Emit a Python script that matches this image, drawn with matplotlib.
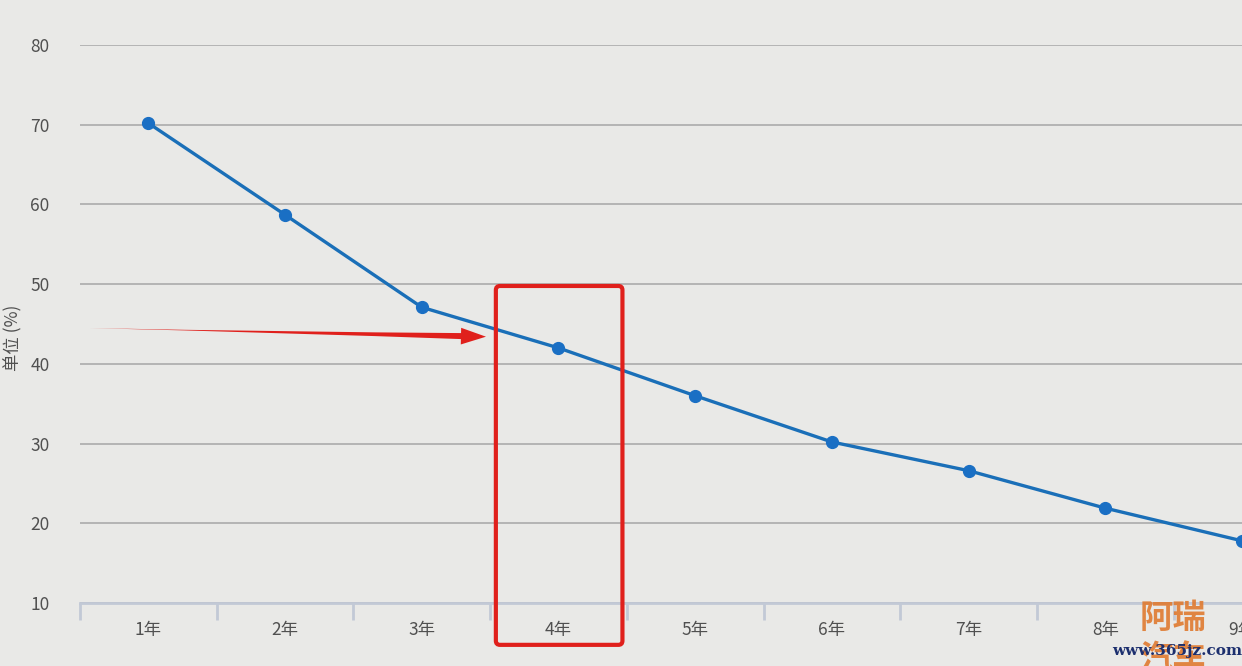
import numpy as np
import matplotlib.pyplot as plt
from matplotlib.patches import FancyBboxPatch

plt.rcParams['font.family'] = ['Noto Sans CJK SC', 'DejaVu Sans']

years = ['1年', '2年', '3年', '4年', '5年', '6年', '7年', '8年', '9年']
rate = [70.2, 58.7, 47.1, 42.0, 36.0, 30.2, 26.6, 21.9, 17.8]
y_ticks = [10, 20, 30, 40, 50, 60, 70, 80]

bg = '#e9e9e7'
text_c = '#505050'
line_c = '#1a6fb8'
red = '#e0201c'

fig = plt.figure(figsize=(12.42, 6.66), dpi=100, facecolor=bg)
ax = fig.add_axes([80 / 1242, 63 / 666, 1 - 80 / 1242, 558 / 666])
ax.set_facecolor(bg)

x = np.arange(1, len(years) + 1)
ax.plot(x, rate, color=line_c, lw=2.4, marker='o', ms=8.5, mfc='#1a6fc4', mec='#1a6fc4',
        zorder=5, clip_on=False)

ax.set_xlim(0.5, 8.96)
ax.set_ylim(10, 80)
ax.set_yticks(y_ticks)
ax.yaxis.grid(True, color='#b4b4b4', lw=1.4)
ax.set_axisbelow(True)

for s in ['top', 'right', 'left']:
    ax.spines[s].set_visible(False)
ax.spines['bottom'].set_color('#c2c9d6')
ax.spines['bottom'].set_linewidth(2)

ax.tick_params(axis='y', length=0, pad=22, labelsize=12.5, labelcolor=text_c)
ax.set_xticks(x)
ax.set_xticklabels(years)
ax.tick_params(axis='x', length=0, pad=13, labelsize=12.5, labelcolor=text_c)
for lab in ax.get_xticklabels():
    lab.set_clip_on(False)
# category boundary ticks
ax.set_xticks(np.arange(0.5, 9.0, 1.0), minor=True)
ax.tick_params(axis='x', which='minor', length=12, width=2, color='#c2c9d6')

fig.text(13 / 1242, 1 - 338 / 666, '单位 (%)', rotation=90, va='center', ha='center',
         fontsize=12.5, color=text_c)

# highlight box around 4年
box = FancyBboxPatch((3.542, 4.75), 4.468 - 3.542, 49.77 - 4.75,
                     boxstyle='round,pad=0,rounding_size=0.03', fill=False,
                     ec=red, lw=3, clip_on=False, zorder=6,
                     mutation_aspect=70 / 0.93 * 137 / 558 * 0.93)
ax.add_patch(box)

# tapered arrow pointing at the box
ax.annotate('', xy=(0.545, 44.5), xytext=(3.38, 43.45),
            arrowprops=dict(arrowstyle='wedge,tail_width=0.45,shrink_factor=0.3',
                            color=red, lw=0), zorder=6)
ax.annotate('', xy=(3.49, 43.4), xytext=(3.36, 43.45),
            arrowprops=dict(arrowstyle='-|>,head_length=0.9,head_width=0.3',
                            color=red, lw=0, mutation_scale=20), zorder=6)

# watermark
fig.text(1173 / 1242, 1 - 618 / 666, '阿瑞', ha='center', va='center',
         fontsize=24, fontweight='bold', color='#e07a30', alpha=0.9)
fig.text(1173 / 1242, 1 - 660 / 666, '汽车', ha='center', va='center',
         fontsize=24, fontweight='bold', color='#e07a30', alpha=0.9, clip_on=True)
fig.text(1177 / 1242, 1 - 651 / 666, 'www.365jz.com', ha='center', va='center',
         fontsize=11, family='DejaVu Serif', fontweight='bold', color='#1c2f6e')

fig.savefig('out.png', dpi=100, facecolor=bg)
